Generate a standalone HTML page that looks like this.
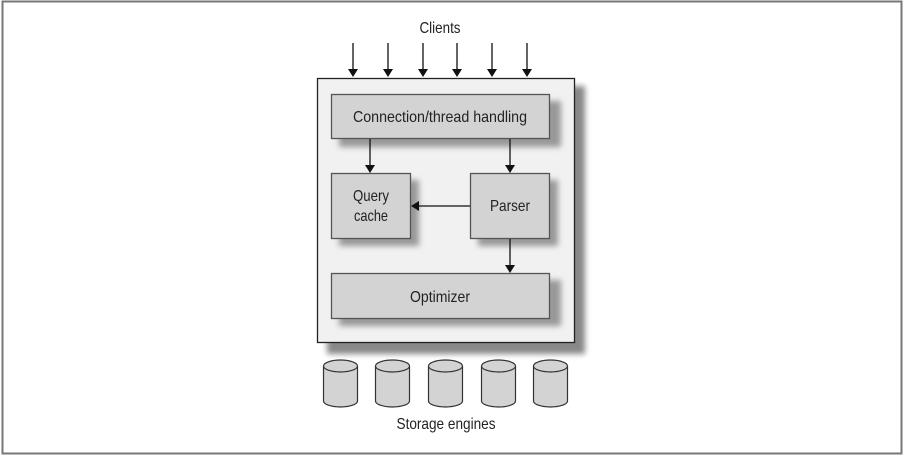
<!DOCTYPE html>
<html><head><style>
html,body{margin:0;padding:0;background:#fff;}
svg{display:block;}
text{font-family:"Liberation Sans Narrow","Liberation Sans",sans-serif;font-size:16px;fill:#222;text-anchor:middle;}
</style></head><body>
<svg width="904" height="456" viewBox="0 0 904 456" xmlns="http://www.w3.org/2000/svg">
<defs>
<filter id="sh" x="-20%" y="-20%" width="140%" height="140%"><feGaussianBlur stdDeviation="3"/></filter>
<marker id="ah" markerWidth="8" markerHeight="10" refX="7" refY="5" orient="auto" markerUnits="userSpaceOnUse"><path d="M0,0 L8,5 L0,10 Z" fill="#111"/></marker>
</defs>
<rect x="2.5" y="1.5" width="899" height="452" fill="#fff" stroke="#777" stroke-width="2"/>
<text x="440" y="33" textLength="41" lengthAdjust="spacingAndGlyphs">Clients</text>
<g stroke="#111" stroke-width="1.3" marker-end="url(#ah)">
<line x1="353" y1="43" x2="353" y2="76"/><line x1="388" y1="43" x2="388" y2="76"/>
<line x1="423" y1="43" x2="423" y2="76"/><line x1="457" y1="43" x2="457" y2="76"/>
<line x1="492" y1="43" x2="492" y2="76"/><line x1="527" y1="43" x2="527" y2="76"/>
</g>
<rect x="327" y="86" width="258" height="268" fill="#888" filter="url(#sh)"/>
<rect x="317.5" y="78.5" width="257" height="264" fill="#f1f1f1" stroke="#222" stroke-width="1.3"/>
<g fill="#999" filter="url(#sh)">
<rect x="339" y="101" width="222" height="46"/>
<rect x="339" y="180" width="80" height="66"/>
<rect x="478" y="180" width="80" height="66"/>
<rect x="339" y="280" width="222" height="46"/>
</g>
<g fill="#d3d3d3" stroke="#555" stroke-width="1.3">
<rect x="331.5" y="94.5" width="218" height="44"/>
<rect x="331.5" y="173.5" width="79" height="65"/>
<rect x="470.5" y="173.5" width="79" height="65"/>
<rect x="331.5" y="273.5" width="218" height="45"/>
</g>
<text x="440" y="122" textLength="174" lengthAdjust="spacingAndGlyphs">Connection/thread handling</text>
<text x="371" y="201" textLength="36" lengthAdjust="spacingAndGlyphs">Query</text>
<text x="371" y="221" textLength="34" lengthAdjust="spacingAndGlyphs">cache</text>
<text x="510" y="211" textLength="40" lengthAdjust="spacingAndGlyphs">Parser</text>
<text x="440" y="302" textLength="60" lengthAdjust="spacingAndGlyphs">Optimizer</text>
<g stroke="#111" stroke-width="1.3" marker-end="url(#ah)">
<line x1="370" y1="139" x2="370" y2="172"/>
<line x1="510" y1="139" x2="510" y2="172"/>
<line x1="470" y1="206" x2="412" y2="206"/>
<line x1="510" y1="239" x2="510" y2="272"/>
</g>
<g fill="#d3d3d3" stroke="#333" stroke-width="1.2">
<g transform="translate(323,0)"><path d="M0.5,366 L0.5,401 A17,6 0 0 0 34.5,401 L34.5,366"/><ellipse cx="17.5" cy="366" rx="17" ry="6"/></g>
<g transform="translate(375,0)"><path d="M0.5,366 L0.5,401 A17,6 0 0 0 34.5,401 L34.5,366"/><ellipse cx="17.5" cy="366" rx="17" ry="6"/></g>
<g transform="translate(428,0)"><path d="M0.5,366 L0.5,401 A17,6 0 0 0 34.5,401 L34.5,366"/><ellipse cx="17.5" cy="366" rx="17" ry="6"/></g>
<g transform="translate(481,0)"><path d="M0.5,366 L0.5,401 A17,6 0 0 0 34.5,401 L34.5,366"/><ellipse cx="17.5" cy="366" rx="17" ry="6"/></g>
<g transform="translate(533,0)"><path d="M0.5,366 L0.5,401 A17,6 0 0 0 34.5,401 L34.5,366"/><ellipse cx="17.5" cy="366" rx="17" ry="6"/></g>
</g>
<text x="446" y="429" textLength="99" lengthAdjust="spacingAndGlyphs">Storage engines</text>
</svg>
</body></html>
